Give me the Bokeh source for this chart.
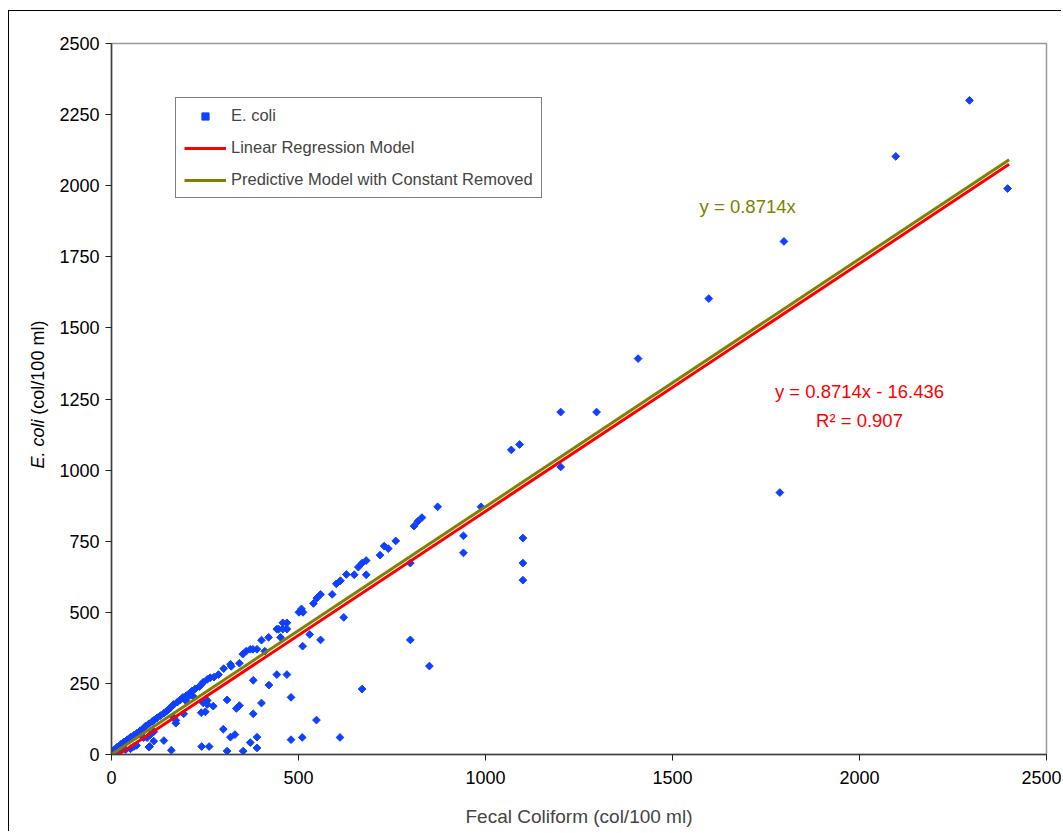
import math
from bokeh.plotting import figure
from bokeh.layouts import row
from bokeh.models import Legend, LegendItem, Range1d, FixedTicker, ColumnDataSource
from bokeh.core.properties import value
from bokeh.embed import file_html
from bokeh.resources import INLINE

# ---- data ----
fecal_coliform = [
    2294, 2097, 2396, 1798, 1597, 1408, 1201, 1297, 1069, 1091, 1201, 1787, 1100, 1100, 1100,
    941, 941, 988, 872, 809, 819, 830, 760, 729, 740, 718, 799, 799, 850, 670, 681, 670, 660,
    649, 681, 628, 612, 601, 590, 559, 549, 540, 508, 512, 501, 621, 530, 559, 511, 469, 458,
    447, 442, 458, 469, 452, 420, 401, 410, 389, 378, 371, 351, 360, 342, 320, 318, 300, 286,
    274, 264, 256, 245, 240, 235, 224, 215, 209, 200, 191, 184, 176, 166, 159, 153, 147, 140,
    131, 122, 115, 109, 100, 91, 85, 77, 69, 60, 51, 42, 33, 24, 15, 6,
    480, 469, 442, 421, 401, 379, 379, 342, 334, 309, 299, 318, 330, 371, 389, 389, 352, 309,
    241, 261, 160, 480, 510, 548, 611, 272, 256, 240, 251, 256, 245, 218, 209, 198, 193, 172,
    172, 166, 140, 113, 113, 104, 102, 95, 100,
    86, 79, 67, 60, 51, 38, 31, 24, 15, 3, 15,
]
e_coli = [
    2300, 2103, 1990, 1804, 1603, 1392, 1204, 1204, 1071, 1090, 1011, 921, 761, 673, 613,
    769, 709, 871, 871, 803, 820, 833, 751, 733, 724, 701, 673, 403, 311, 230, 682, 673, 659,
    632, 632, 633, 611, 600, 563, 563, 550, 531, 512, 500, 500, 482, 422, 403, 381, 441, 441,
    441, 441, 463, 463, 412, 412, 402, 363, 370, 370, 370, 353, 363, 321, 310, 317, 302, 281,
    272, 270, 264, 254, 246, 239, 231, 223, 216, 207, 201, 192, 184, 176, 166, 159, 152, 145,
    137, 129, 122, 116, 108, 100, 91, 84, 76, 68, 61, 52, 44, 35, 26, 16,
    201, 281, 281, 244, 181, 261, 143, 172, 162, 192, 89, 61, 70, 42, 61, 23, 12, 12,
    28, 28, 15, 52, 60, 121, 60, 170, 176, 147, 150, 190, 182, 205, 207, 190, 143, 120,
    110, 131, 49, 80, 47, 70, 28, 59, 26,
    59, 67, 32, 28, 20, 17, 34, 24, 12, 2, 2,
]

# model lines (end points, from the equations printed on the chart)
linear_x = [0, 2400]
linear_y = [-16.4, 2075.0]
constant_removed_x = [0, 2400]
constant_removed_y = [0, 2091.4]

x_ticks = [0, 500, 1000, 1500, 2000, 2500]
y_ticks = [0, 250, 500, 750, 1000, 1250, 1500, 1750, 2000, 2250, 2500]

FONT = "Liberation Sans"
BLUE = "#1040ff"

TOTAL_H = 820
TOP = 32
FRAME_H = 711
BOTTOM = TOTAL_H - TOP - FRAME_H
LABEL_W = 44

# ---- main chart ----
p = figure(
    frame_width=935, frame_height=FRAME_H,
    x_range=Range1d(0, 2500), y_range=Range1d(0, 2500),
    min_border_left=58, min_border_right=15, min_border_top=TOP,
    min_border_bottom=BOTTOM,
    output_backend="svg", toolbar_location=None,
    background_fill_color="white", border_fill_color="white",
)
p.outline_line_color = "#999999"
p.outline_line_width = 1.5
p.xgrid.visible = False
p.ygrid.visible = False

for ax, ticks in ((p.xaxis[0], x_ticks), (p.yaxis[0], y_ticks)):
    ax.ticker = FixedTicker(ticks=ticks)
    ax.minor_tick_line_color = None
    ax.major_tick_in = 0
    ax.major_tick_out = 6
    ax.major_tick_line_color = "#202020"
    ax.axis_line_color = "#404040"
    ax.axis_line_width = 1.5
    ax.major_label_text_font = FONT
    ax.major_label_text_font_size = "18px"
    ax.major_label_text_color = "black"

p.xaxis.major_label_standoff = 10
p.yaxis.major_label_standoff = 6
p.xaxis.axis_label = "Fecal Coliform (col/100 ml)"
p.xaxis.axis_label_text_font = FONT
p.xaxis.axis_label_text_font_size = "19px"
p.xaxis.axis_label_text_font_style = "normal"
p.xaxis.axis_label_standoff = 19

src = ColumnDataSource(data=dict(x=fecal_coliform, y=e_coli))
sc = p.scatter("x", "y", source=src, marker="square", size=5.5, angle=math.pi / 4,
               fill_color=BLUE, line_color=BLUE, line_width=1)
red = p.line(linear_x, linear_y, line_color="#ff0000", line_width=3)
green = p.line(constant_removed_x, constant_removed_y, line_color="#808000", line_width=3)

legend = Legend(
    items=[
        LegendItem(label="E. coli", renderers=[sc]),
        LegendItem(label="Linear Regression Model", renderers=[red]),
        LegendItem(label="Predictive Model with Constant Removed", renderers=[green]),
    ],
    location=(64, 556),
    border_line_color="black", border_line_width=1,
    background_fill_color="white", background_fill_alpha=1,
    padding=8, spacing=13, margin=0,
    glyph_width=42, glyph_height=18, label_height=18, label_standoff=5,
    label_text_font=FONT, label_text_font_size="16.5px",
)
p.add_layout(legend)

ann = ColumnDataSource(data=dict(
    x=[1701, 2000, 2000],
    y=[1927, 1276, 1176],
    text=["y = 0.8714x", "y = 0.8714x - 16.436", "R\u00b2 = 0.907"],
    color=["#808000", "#ff0000", "#ff0000"],
))
p.text("x", "y", text="text", source=ann, text_color="color",
       text_font=value(FONT), text_font_size="18.5px",
       text_align="center", text_baseline="middle")

# ---- strip holding the y-axis title (italic species name); shares the y scale ----
lab = figure(
    frame_width=LABEL_W, frame_height=FRAME_H,
    x_range=Range1d(0, LABEL_W), y_range=p.y_range,
    min_border_left=0, min_border_right=0, min_border_top=TOP, min_border_bottom=BOTTOM,
    x_axis_type=None, y_axis_type=None,
    output_backend="svg", toolbar_location=None,
    background_fill_color="white", border_fill_color="white",
)
lab.outline_line_color = None
lab.xgrid.visible = False
lab.ygrid.visible = False
lab.text(x=[28], y=[1006], text=["E. coli"], angle=math.pi / 2,
         text_font=value(FONT), text_font_size="18px", text_font_style="italic",
         text_align="left", text_baseline="middle", text_color="black")
lab.text(x=[28], y=[1195], text=["(col/100 ml)"], angle=math.pi / 2,
         text_font=value(FONT), text_font_size="18px",
         text_align="left", text_baseline="middle", text_color="black")

layout = row(lab, p, margin=(10, 0, 0, 8))
layout.styles = {"border-left": "1px solid black", "border-top": "1px solid black"}

open("out.html", "w").write(file_html(layout, INLINE))
